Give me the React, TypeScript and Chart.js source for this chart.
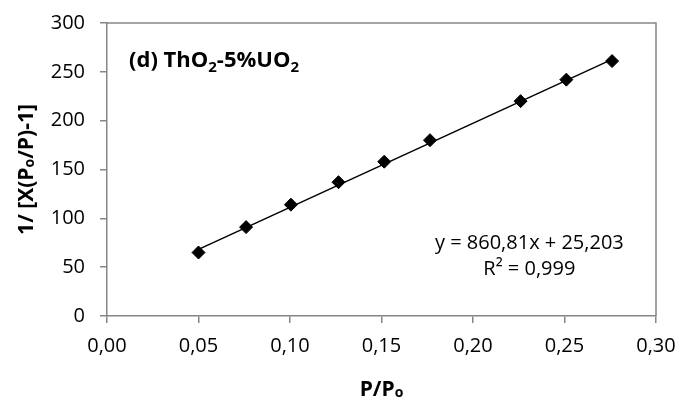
import React, { useEffect, useRef } from "react";
import { Chart, registerables } from "chart.js";

Chart.register(...registerables);

// ---- data ----
const pressureRatio = [0.05, 0.076, 0.1005, 0.1265, 0.1515, 0.1765, 0.226, 0.251, 0.276];
const inverseAdsorbed = [65, 91, 114, 137, 158, 180, 220, 242, 261];
const xTickLabels = ["0,00", "0,05", "0,10", "0,15", "0,20", "0,25", "0,30"];
const yTickLabels = ["0", "50", "100", "150", "200", "250", "300"];
const trendSlope = 860.81;
const trendIntercept = 25.203;
const equationText = "y = 860,81x + 25,203";
const r2Text = "R² = 0,999";

type Seg = { t: string; sub?: boolean };
const titleSegs: Seg[] = [
  { t: "(d) ThO" },
  { t: "2", sub: true },
  { t: "-5%UO" },
  { t: "2", sub: true },
];
const yTitleSegs: Seg[] = [{ t: "1/ [X(P" }, { t: "o", sub: true }, { t: "/P)-1]" }];
const xTitleSegs: Seg[] = [{ t: "P/P" }, { t: "o", sub: true }];

const FONT = "'Open Sans', 'Noto Sans', sans-serif";
const AXIS_COLOR = "#868686";

function drawRich(
  ctx: CanvasRenderingContext2D,
  segs: Seg[],
  x: number,
  y: number,
  size: number,
  bold: boolean,
  align: "left" | "center",
  drop: number
) {
  const w = bold ? "bold " : "";
  const main = `${w}${size}px ${FONT}`;
  const sub = `${w}${Math.round(size * 0.68)}px ${FONT}`;
  let total = 0;
  const widths = segs.map((s) => {
    ctx.font = s.sub ? sub : main;
    const m = ctx.measureText(s.t).width;
    total += m;
    return m;
  });
  let cx = align === "center" ? x - total / 2 : x;
  ctx.textAlign = "left";
  ctx.textBaseline = "alphabetic";
  segs.forEach((s, i) => {
    ctx.font = s.sub ? sub : main;
    ctx.fillText(s.t, cx, s.sub ? y + size * drop : y);
    cx += widths[i];
  });
}

const overlayPlugin = {
  id: "overlay",
  afterDraw(chart: any) {
    const ctx: CanvasRenderingContext2D = chart.ctx;
    const a = chart.chartArea;
    ctx.save();
    // frame top & right
    ctx.strokeStyle = AXIS_COLOR;
    ctx.lineWidth = 1.5;
    ctx.beginPath();
    ctx.moveTo(a.left, a.top);
    ctx.lineTo(a.right, a.top);
    ctx.lineTo(a.right, a.bottom);
    ctx.stroke();

    ctx.fillStyle = "#000";
    // panel label
    drawRich(ctx, titleSegs, a.left + 22, a.top + 44, 22, true, "left", 0.22);
    // equation
    const xs = chart.scales.x;
    const ys = chart.scales.y;
    const ecx = xs.getPixelForValue(0.2308);
    ctx.font = `20px ${FONT}`;
    ctx.textAlign = "center";
    ctx.textBaseline = "alphabetic";
    ctx.fillText(equationText, ecx, ys.getPixelForValue(69));
    ctx.fillText(r2Text, ecx, ys.getPixelForValue(42));
    // x title
    drawRich(ctx, xTitleSegs, (a.left + a.right) / 2, 396, 21, true, "center", 0.04);
    // y title
    ctx.translate(33, (a.top + a.bottom) / 2);
    ctx.rotate(-Math.PI / 2);
    drawRich(ctx, yTitleSegs, 0, 0, 21, true, "center", 0.04);
    ctx.restore();
  },
};

function zeroPadding(s: any) {
  s.paddingTop = 0;
  s.paddingBottom = 0;
  s.paddingLeft = 0;
  s.paddingRight = 0;
}

export default function App() {
  const ref = useRef<HTMLCanvasElement | null>(null);
  useEffect(() => {
    if (!ref.current) return;
    const points = pressureRatio.map((x, i) => ({ x, y: inverseAdsorbed[i] }));
    const x0 = pressureRatio[0];
    const x1 = pressureRatio[pressureRatio.length - 1];
    const trend = [
      { x: x0, y: trendSlope * x0 + trendIntercept },
      { x: x1, y: trendSlope * x1 + trendIntercept },
    ];
    const chart = new Chart(ref.current, {
      type: "scatter",
      data: {
        datasets: [
          {
            type: "line",
            data: trend,
            borderColor: "#000",
            borderWidth: 1.5,
            pointRadius: 0,
            fill: false,
          } as any,
          {
            data: points,
            pointStyle: "rectRot",
            pointRadius: 6.5,
            backgroundColor: "#000",
            borderColor: "#000",
            borderWidth: 1,
          },
        ],
      },
      options: {
        animation: false,
        responsive: true,
        maintainAspectRatio: false,
        layout: { padding: { top: 23, right: 27, left: 0, bottom: 0 } },
        plugins: { legend: { display: false }, tooltip: { enabled: false } },
        scales: {
          x: {
            type: "linear",
            min: 0,
            max: 0.3,
            afterFit: (s: any) => {
              s.height = 85;
              zeroPadding(s);
            },
            ticks: {
              stepSize: 0.05,
              padding: 11,
              color: "#000",
              font: { family: FONT, size: 20 },
              callback: (_v: any, i: number) => xTickLabels[i],
              maxRotation: 0,
            },
            grid: {
              display: true,
              drawOnChartArea: false,
              drawTicks: true,
              tickLength: 7,
              color: AXIS_COLOR,
              lineWidth: 1.5,
            },
            border: { display: true, color: AXIS_COLOR, width: 1.5 },
          },
          y: {
            type: "linear",
            min: 0,
            max: 300,
            afterFit: (s: any) => {
              s.width = 107;
              zeroPadding(s);
            },
            ticks: {
              stepSize: 50,
              padding: 15,
              color: "#000",
              font: { family: FONT, size: 20 },
              callback: (_v: any, i: number) => yTickLabels[i],
            },
            grid: {
              display: true,
              drawOnChartArea: false,
              drawTicks: true,
              tickLength: 7,
              color: AXIS_COLOR,
              lineWidth: 1.5,
            },
            border: { display: true, color: AXIS_COLOR, width: 1.5 },
          },
        },
      },
      plugins: [overlayPlugin],
    });
    return () => chart.destroy();
  }, []);
  return (
    <div style={{ width: 683, height: 401, position: "relative", overflow: "hidden" }}>
      <style>{"body{margin:0;overflow:hidden}"}</style>
      <canvas ref={ref} />
    </div>
  );
}
